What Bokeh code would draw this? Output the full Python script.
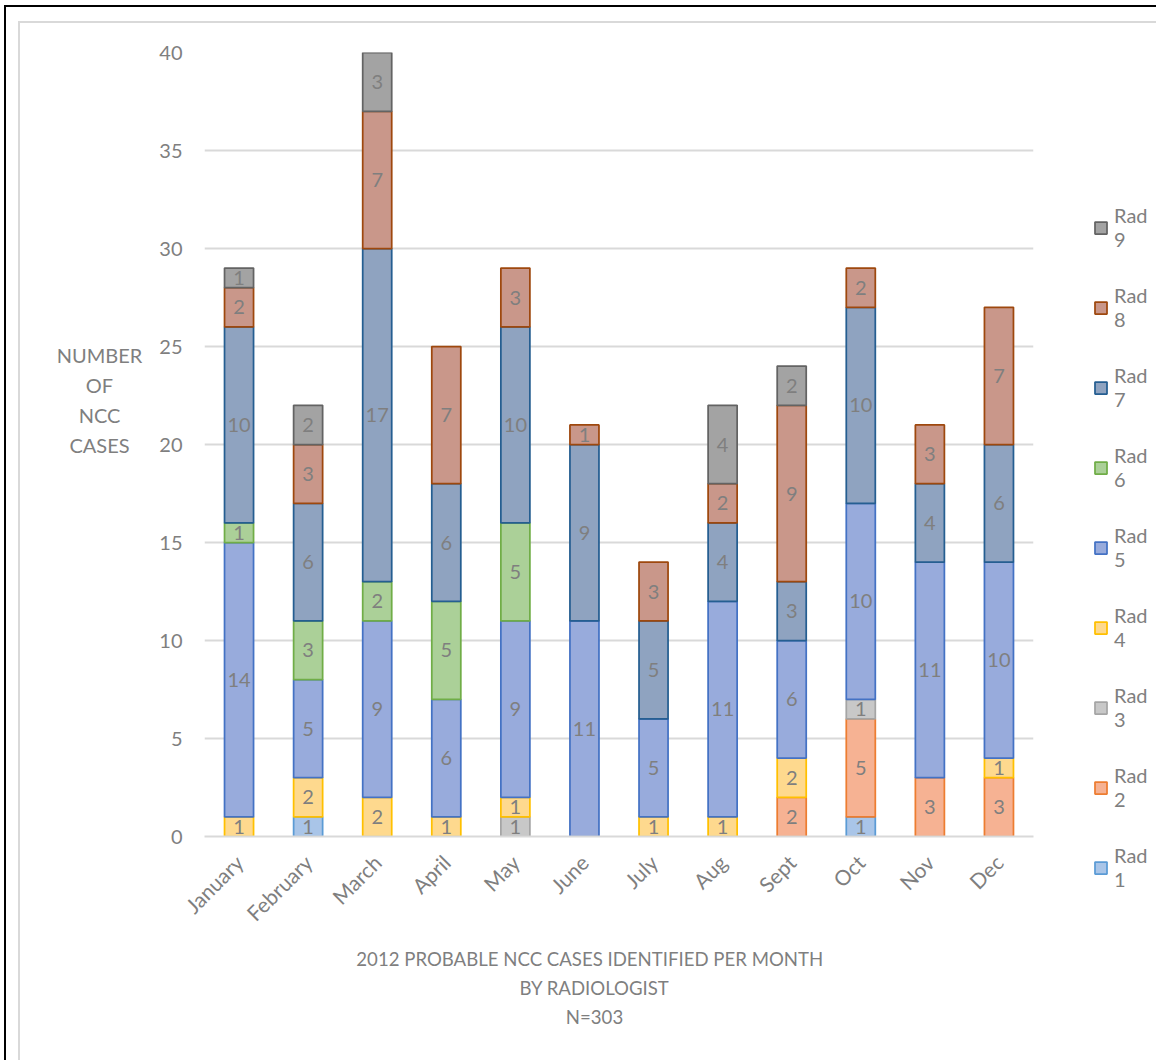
import numpy as np
from bokeh.plotting import figure
from bokeh.layouts import column, row
from bokeh.models import (ColumnDataSource, FactorRange, Range1d, FixedTicker,
                          Legend, LegendItem, Label, Plot)
from bokeh.core.properties import value
from bokeh.embed import file_html
from bokeh.resources import INLINE

# ---------------- data ----------------
months = ["January", "February", "March", "April", "May", "June",
          "July", "Aug", "Sept", "Oct", "Nov", "Dec"]
series_names = ["Rad 1", "Rad 2", "Rad 3", "Rad 4", "Rad 5",
                "Rad 6", "Rad 7", "Rad 8", "Rad 9"]
rad1 = [0, 1, 0, 0, 0, 0, 0, 0, 0, 1, 0, 0]
rad2 = [0, 0, 0, 0, 0, 0, 0, 0, 2, 5, 3, 3]
rad3 = [0, 0, 0, 0, 1, 0, 0, 0, 0, 1, 0, 0]
rad4 = [1, 2, 2, 1, 1, 0, 1, 1, 2, 0, 0, 1]
rad5 = [14, 5, 9, 6, 9, 11, 5, 11, 6, 10, 11, 10]
rad6 = [1, 3, 2, 5, 5, 0, 0, 0, 0, 0, 0, 0]
rad7 = [10, 6, 17, 6, 10, 9, 5, 4, 3, 10, 4, 6]
rad8 = [2, 3, 7, 7, 3, 1, 3, 2, 9, 2, 3, 7]
rad9 = [1, 2, 3, 0, 0, 0, 0, 4, 2, 0, 0, 0]
y_ticks = [0, 5, 10, 15, 20, 25, 30, 35, 40]
title_lines = ["2012 PROBABLE NCC CASES  IDENTIFIED  PER MONTH",
               "BY RADIOLOGIST", "N=303"]
ylabel_lines = ["NUMBER", "OF", "NCC", "CASES"]

all_series = [rad1, rad2, rad3, rad4, rad5, rad6, rad7, rad8, rad9]

# ---------------- styles ----------------
fills = ["#a9c5e8", "#f6b293", "#c8c8c8", "#fed98e", "#98abdc",
         "#abd098", "#8fa3c0", "#c9978a", "#a3a3a3"]
lines = ["#5b9bd5", "#ed7d31", "#a5a5a5", "#ffc000", "#4472c4",
         "#70ad47", "#255e91", "#9e480e", "#636363"]
FONT = "Lato"
GRAY = "#7f7f7f"

OX, OY = 20, 23                 # content origin on the page
PAGE_W, PAGE_H = 1156, 1060
ROW_B = 940                     # page y where the chart row ends / title starts
LAB_R, LEG_L = 150, 1081        # page x where the main figure starts / ends
FL, FR, FT, FB = 204, 1033, 52, 836   # frame edges in page px

HAS_FA = "frame_align" in Plot.properties()


def common(f):
    f.outline_line_color = None
    f.background_fill_color = "white"
    f.border_fill_color = "white"
    if HAS_FA:
        f.frame_align = False


# ---------------- main chart ----------------
fig = figure(width=LEG_L - LAB_R, height=ROW_B - OY,
             x_range=FactorRange(*months, range_padding=0),
             y_range=Range1d(0, 40), output_backend="svg", toolbar_location=None,
             min_border_left=FL - LAB_R, min_border_right=LEG_L - FR,
             min_border_top=FT - OY, min_border_bottom=ROW_B - FB)
common(fig)

fig.yaxis.ticker = FixedTicker(ticks=y_ticks)
fig.yaxis.axis_line_color = None
fig.yaxis.major_tick_line_color = None
fig.yaxis.minor_tick_line_color = None
fig.yaxis.major_tick_out = 0
fig.yaxis.major_label_standoff = 22
fig.yaxis.major_label_text_font = FONT
fig.yaxis.major_label_text_font_size = "20px"
fig.yaxis.major_label_text_color = GRAY

fig.xaxis.axis_line_color = "#d9d9d9"
fig.xaxis.axis_line_width = 2
fig.xaxis.major_tick_line_color = None
fig.xaxis.minor_tick_line_color = None
fig.xaxis.major_tick_out = 0
fig.xaxis.major_label_standoff = 22
fig.xaxis.major_label_orientation = np.pi / 4
fig.xaxis.major_label_text_font = FONT
fig.xaxis.major_label_text_font_size = "21px"
fig.xaxis.major_label_text_color = GRAY

fig.xgrid.grid_line_color = None
fig.ygrid.grid_line_color = "#d9d9d9"
fig.ygrid.grid_line_width = 2

# stacked bars (zero segments are left out, as in the original)
cum = np.zeros(len(months))
sources = []
for i, vals in enumerate(all_series):
    vals = np.array(vals, dtype=float)
    bottom = cum.copy()
    top = cum + vals
    mask = vals > 0
    src = ColumnDataSource(dict(
        month=[m for m, k in zip(months, mask) if k],
        bottom=bottom[mask], top=top[mask],
        mid=((bottom + top) / 2)[mask],
        label=[str(int(v)) for v in vals[mask]],
    ))
    fig.vbar(x="month", bottom="bottom", top="top", width=0.42, source=src,
             fill_color=fills[i], line_color=lines[i], line_width=1.75)
    sources.append(src)
    cum = top

for src in sources:
    fig.text(x="month", y="mid", text="label", source=src,
             text_align="center", text_baseline="middle",
             text_font=value(FONT), text_font_size="20px", text_color=GRAY)

# ---------------- y-axis title panel ----------------
labfig = figure(width=LAB_R - OX, height=ROW_B - OY, x_range=Range1d(0, 1),
                y_range=Range1d(0, 1), output_backend="svg", toolbar_location=None,
                min_border=0, x_axis_location=None, y_axis_location=None)
common(labfig)
labfig.grid.visible = False
lab_bottom = ROW_B if HAS_FA else FB
for k, t in enumerate(ylabel_lines):
    labfig.add_layout(Label(x=99 - OX, y=lab_bottom - (354 + 30 * k),
                            x_units="screen", y_units="screen", text=t,
                            text_align="center", text_baseline="alphabetic",
                            text_font=FONT, text_font_size="20px", text_color=GRAY))

# ---------------- legend panel ----------------
legfig = figure(width=PAGE_W - LEG_L, height=ROW_B - OY,
                x_range=FactorRange(*months, range_padding=0), y_range=Range1d(0, 40),
                output_backend="svg", toolbar_location=None, min_border=0,
                x_axis_location=None, y_axis_location=None)
common(legfig)
legfig.grid.visible = False
leg_renderers = []
for i, src in enumerate(sources):
    r = legfig.vbar(x="month", bottom="bottom", top="top", width=0.42, source=src,
                    fill_color=fills[i], line_color=lines[i], line_width=1.75,
                    visible=False)
    leg_renderers.append(r)

items = [LegendItem(label=series_names[i].replace(" ", "\n"), renderers=[leg_renderers[i]])
         for i in range(8, -1, -1)]
legend = Legend(items=items, location=(1093 - LEG_L, lab_bottom - 891),
                orientation="vertical",
                glyph_width=15, glyph_height=15, label_standoff=6,
                label_text_font=FONT, label_text_font_size="20px",
                label_text_color=GRAY,
                spacing=32, padding=0, margin=0,
                inactive_fill_alpha=0,
                border_line_color=None, background_fill_alpha=0)
legfig.add_layout(legend)

# ---------------- chart title panel ----------------
titfig = figure(width=PAGE_W - OX, height=PAGE_H - ROW_B, x_range=Range1d(0, 1),
                y_range=Range1d(0, 1), output_backend="svg", toolbar_location=None,
                min_border=0, x_axis_location=None, y_axis_location=None)
common(titfig)
titfig.grid.visible = False
for k, t in enumerate(title_lines):
    titfig.add_layout(Label(x=594 - OX, y=PAGE_H - (958 + 29 * k),
                            x_units="screen", y_units="screen", text=t,
                            text_align="center", text_baseline="alphabetic",
                            text_font=FONT, text_font_size="18.6px", text_color=GRAY))

inner = column(row(labfig, fig, legfig), titfig, margin=(14, 0, 0, 12),
               styles={"border-top": "2px solid #d9d9d9", "border-left": "2px solid #d9d9d9"})
p = column(inner, margin=(5, 0, 0, 4),
           styles={"border-top": "2px solid black", "border-left": "2px solid black"})

open("out.html", "w").write(file_html(p, INLINE))
